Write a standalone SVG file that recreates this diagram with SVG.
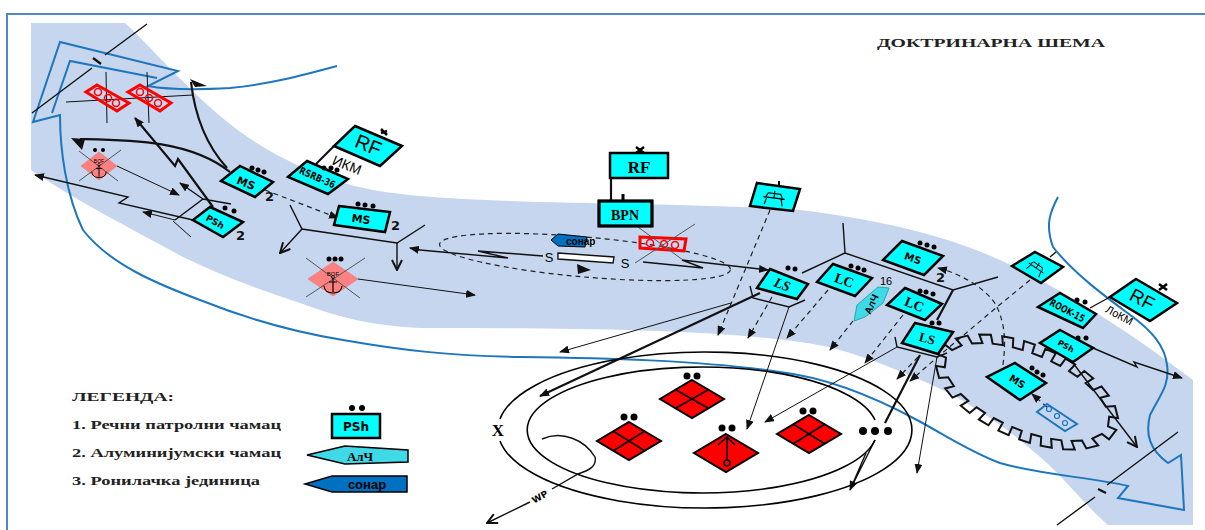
<svg xmlns="http://www.w3.org/2000/svg" xmlns:xlink="http://www.w3.org/1999/xlink" width="1205" height="530" viewBox="0 0 1205 530">
<style>
.riv{fill:none;stroke:#1e76bd;stroke-width:2}
.b1{fill:none;stroke:#111;stroke-width:1}
.b2{fill:none;stroke:#111;stroke-width:1.4}
.b3{fill:none;stroke:#111;stroke-width:2.2}
.da{fill:none;stroke:#222;stroke-width:1.2;stroke-dasharray:5 4}
.cy{fill:#00ffff;stroke:#000;stroke-width:2.5;stroke-linejoin:miter}
.red{fill:#ff0000;stroke:#000;stroke-width:2}
.rb{fill:none;stroke:#ff0000;stroke-width:3}
.gr{fill:none;stroke:#000;stroke-width:1.6}
.ring{fill:none;stroke:#ff0000;stroke-width:1.5}
.xl{stroke:#555;stroke-width:1;fill:none}
.bof{fill:#ff8080;stroke:#e07070;stroke-width:.5}
text{font-family:"Liberation Sans",Arial,sans-serif;fill:#000}
.t{font-weight:bold;text-anchor:middle;font-family:"DejaVu Sans",sans-serif}
.s{font-weight:bold;text-anchor:middle;font-family:"Liberation Serif",serif}
.n{font-weight:bold;font-size:13px;font-family:"DejaVu Sans",sans-serif;fill:#111}
.leg{font-family:"Liberation Serif",serif;font-weight:bold;font-size:13px;fill:#222}
</style>
<defs>
<marker id="a" viewBox="0 0 10 8" refX="9" refY="4" markerWidth="10" markerHeight="8" markerUnits="userSpaceOnUse" orient="auto"><path d="M0 0L10 4L0 8z" fill="#111"/></marker>
<marker id="o" viewBox="0 0 12 12" refX="11" refY="6" markerWidth="12" markerHeight="12" markerUnits="userSpaceOnUse" orient="auto"><path d="M1 1L11 6L1 11" fill="none" stroke="#111" stroke-width="2"/></marker>
<g id="anchor"><path d="M0-7V7M-4-3H4M-9 1C-8 8-3 8 0 8C3 8 8 8 9 1" fill="none" stroke="#000" stroke-width="1.2"/><circle cy="-8" r="1.5" fill="none" stroke="#000" stroke-width=".7"/></g>
<path id="eng" d="M-12 0H12M-7-5H7M0-8V0M-8 0L-10 8M8 0L10 8M-7-5L-9-1M7-5L9-1" fill="none" stroke="#000" stroke-width="1.3"/>
</defs>
<rect width="1205" height="530" fill="#fff"/>
<path d="M7 530V14H1205" fill="none" stroke="#5585c0" stroke-width="2"/>
<path id="band" fill="#c5d6ee" d="M31 23H125C170 65 215 125 287 160C335 185 375 192 420 196C520 205 680 202 800 210C880 220 945 235 1000 260C1075 295 1140 340 1193 380V525H1108C1090 510 1070 485 1047 463C1005 425 960 395 913 377C875 360 835 346 800 342C700 328 560 328 420 328C375 326 340 318 300 303C260 290 220 275 183 257C130 228 75 200 31 170Z"/>
<g id="river">
<path class="riv" d="M337 66C300 76 270 84 230 88C195 90 170 90 148 86L178 71L60 42L33 122L60 115C60 150 66 195 83 230C110 265 160 285 200 300C250 320 300 333 343 340C400 350 450 356 520 357C600 358 700 360 780 372C830 378 880 400 917 420C945 435 970 452 1000 463C1040 475 1090 477 1128 486L1118 498L1184 510L1181 455L1168 463C1150 450 1145 435 1150 415C1160 395 1170 385 1167 365C1165 345 1150 330 1133 317C1110 300 1075 275 1053 247C1045 225 1050 212 1058 197"/>
<path class="riv" d="M157 78L70 61L52 113"/>
</g>
<g id="connectors">
<path class="b2" d="M147 24L105 55M92 68L32 113"/>
<path class="b3" d="M93 58L101 64" stroke-width="2.5"/>
<path class="b2" d="M1178 432L1107 485M1095 497L1057 525"/>
<path class="b3" d="M1098 489L1106 493"/>
<path class="b1" d="M106 72L107 123M147 72L149 123M66 102L193 95"/>
<path class="b3" d="M227 168Q197 135 191 82"/>
<path d="M190 79L207 86L195 87z" fill="#111"/>
<path class="b3" d="M230 172C190 140 130 140 80 139"/>
<path d="M71 138L85 139L82 150z" fill="#111"/>
<path class="b3" d="M213 207L178 159L175 166L135 118" marker-end="url(#a)"/>
<path class="b2" d="M193 220L119 203L128 197L35 175" marker-end="url(#a)"/>
<path class="b2" d="M175 220L203 199L231 204M203 199L180 183" marker-end="url(#a)"/>
<path class="b1" d="M173 221L191 237M175 220L143 212" marker-end="url(#a)"/>
<path class="b1" d="M117 166L179 195" marker-end="url(#a)"/>
<path class="da" d="M265 190L338 218" marker-end="url(#a)"/>
<path class="b2" d="M290 205L302 229L397 243L425 225"/>
<path class="b2" d="M302 229L280 253" marker-end="url(#o)"/>
<path class="b2" d="M397 243V270" marker-end="url(#o)"/>
<path class="b1" d="M358 279L475 295" marker-end="url(#a)"/>
<path class="b2" d="M420 250L508 258L478 251L543 256"/>
<path class="b2" d="M420 250L410 248" marker-end="url(#a)"/>
<path class="b2" d="M643 262L703 268L682 260L768 270" marker-end="url(#a)"/>
<ellipse class="da" cx="585" cy="257" rx="146" ry="20" transform="rotate(5 585 257)"/>
<path d="M577 264L591 270L578 274z" fill="#111"/>
<path class="da" d="M770 210L718 335" marker-end="url(#a)"/>
<path class="b1" d="M731 303L560 352" marker-end="url(#a)"/>
<path class="b2" d="M750 286L753 298L789 307L805 300"/>
<path class="b1" d="M789 307L747 429" marker-end="url(#a)"/>
<path class="b3" stroke-width="2" d="M760 293L540 396" marker-end="url(#a)"/>
<path class="da" d="M772 297L748 338" marker-end="url(#a)"/>
<path class="da" d="M828 290L787 338" marker-end="url(#a)"/>
<path class="b2" d="M802 273L845 253L843 223M845 253L953 290L998 277"/>
<path class="b3" d="M953 290L937 320"/>
<path class="da" d="M853 321L830 350" marker-end="url(#a)"/>
<path class="da" d="M903 315L865 363" marker-end="url(#a)"/>
<path class="b2" d="M895 337L897 347L937 357L947 353"/>
<path class="b1" d="M897 347L765 422" marker-end="url(#a)"/>
<path class="b1" d="M937 357L917 473" marker-end="url(#a)"/>
<path class="b3" d="M920 355L885 423"/>
<path class="da" d="M918 357L897 379" marker-end="url(#a)"/>
<path class="da" d="M940 355L910 381" marker-end="url(#a)"/>
<path class="da" d="M1030 280L997 307L940 355"/>
<path class="da" d="M1003 365C1006 340 1005 325 997 307C990 292 965 275 938 268" marker-end="url(#a)"/>
<path class="b2" d="M1050 257L1056 252M1090 308L1110 297"/>
<path class="b2" d="M1093 348L1137 367L1134 362L1182 378" marker-end="url(#a)"/>
<path class="b2" d="M1073 363L1137 447" marker-end="url(#o)"/>
<path class="da" d="M1047 407L1032 394" marker-end="url(#a)"/>
<path class="b2" d="M875 440L850 490M866 453L850 490" marker-end="url(#a)"/>
<path class="b2" d="M542 439C562 430 585 440 595 457C597 466 590 470 578 474L552 489M530 502L487 523" marker-end="url(#o)"/>
</g>
<g id="gear" transform="translate(1027 392) rotate(23)">
<path fill="none" stroke="#111" stroke-width="2" d="M88 0L97 0L94 11.500L85.300 9.300L78.300 17.300L86.400 21.400L76.700 28.700L69.600 23.200L60.200 27.700L66.400 34.300L55.600 38.500L50.500 31.100L40.500 33.700L44.600 41.700L33.600 44.100L30.500 35.600L20.400 37L22.500 45.700L11.300 46.700L10.300 37.700L0 38L0 47L-11.300 46.700L-10.300 37.700L-20.400 37L-22.500 45.700L-33.600 44.100L-30.500 35.600L-40.500 33.700L-44.600 41.700L-55.600 38.500L-50.500 31.100L-60.200 27.700L-66.400 34.300L-76.700 28.700L-69.600 23.200L-78.300 17.300L-86.400 21.400L-94 11.500L-85.300 9.300L-88 0L-97 0L-94 -11.500L-85.300 -9.300L-78.300 -17.300L-86.400 -21.400L-76.700 -28.700L-69.600 -23.200L-60.200 -27.700L-66.400 -34.300L-55.600 -38.500L-50.500 -31.100L-40.500 -33.700L-44.600 -41.700L-33.600 -44.100L-30.500 -35.600L-20.400 -37L-22.500 -45.700L-11.300 -46.700L-10.300 -37.700L0 -38L0 -47L11.300 -46.700L10.300 -37.700L20.400 -37L22.500 -45.700L33.600 -44.100L30.500 -35.600L40.500 -33.700L44.600 -41.700L55.600 -38.500L50.500 -31.100L60.200 -27.700L66.400 -34.300L76.700 -28.700L69.600 -23.200L78.300 -17.300L86.400 -21.400L94 -11.500L85.300 -9.300Z"/>
</g>
<g id="objective">
<path class="gr" stroke-width="2" d="M500 419A207 78 0 1 1 500 441"/>
<path class="gr" stroke-width="2" d="M875 420A175 63 0 1 0 875 440"/>
<text class="s" x="498" y="436" font-size="17">X</text>
<circle cx="863" cy="431" r="4"/><circle cx="875" cy="431" r="4"/><circle cx="888" cy="431" r="4"/>
<text class="t" x="540" y="500" font-size="9" font-weight="normal" transform="rotate(-30 540 497)">WP</text>
</g>
<g id="d1"><path class="red" d="M692 380L724 399L692 418L660 399Z"/><path class="gr" d="M676 390L708 408M708 390L676 408"/><circle cx="687" cy="376" r="3.500"/><circle cx="697" cy="376" r="3.500"/></g>
<g id="d2"><path class="red" d="M629 422L661 441L629 460L597 441Z"/><path class="gr" d="M613 431L645 451M645 431L613 451"/><circle cx="624" cy="417" r="3.500"/><circle cx="634" cy="417" r="3.500"/></g>
<g id="d3"><path class="red" d="M726 434L758 453L726 472L694 453Z"/><path class="gr" stroke-width="2" d="M727 437V461M718 445L727 437L735 445"/><circle cx="727" cy="463" r="3" fill="#ff0000" stroke="#000" stroke-width="1.6"/><circle cx="722" cy="428" r="3.500"/><circle cx="732" cy="428" r="3.500"/></g>
<g id="d4"><path class="red" d="M809 415L841 434L809 453L777 434Z"/><path class="gr" d="M793 424L825 444M825 424L793 444"/><circle cx="803" cy="411" r="3.500"/><circle cx="813" cy="411" r="3.500"/></g>
<g id="boat1"><path class="rb" d="M97 85L129 103L117 111L86 92Z"/><g class="ring"><circle cx="98" cy="92" r="3.500"/><circle cx="108" cy="98" r="3.500"/><circle cx="116" cy="103" r="3.500"/></g></g>
<g id="boat2"><path class="rb" d="M140 85L171 103L160 111L128 92Z"/><g class="ring"><circle cx="140" cy="92" r="3.500"/><circle cx="149" cy="98" r="3.500"/><circle cx="158" cy="103" r="3.500"/></g></g>
<g id="bof1"><path class="bof" d="M99 152L117 166L99 180L81 166Z"/><path class="xl" d="M79 151L118 181M121 150L79 181"/><use href="#anchor" transform="translate(99 171) scale(.8)"/><text x="99" y="163" font-size="5" text-anchor="middle">BOF</text><circle cx="95" cy="150" r="2"/><circle cx="103" cy="150" r="2"/></g>
<g id="bof2"><path class="bof" d="M333 262L358 279L333 296L308 279Z"/><path class="xl" d="M306 258L360 298M365 258L306 297"/><use href="#anchor" transform="translate(333 285)"/><text x="333" y="276" font-size="6" text-anchor="middle">BOF</text><circle cx="329" cy="259" r="2.500"/><circle cx="335" cy="259" r="2.500"/><circle cx="341" cy="259" r="2.500"/></g>
<g id="rf1"><path class="cy" d="M355 126L402 146L380 166L334 146Z"/><text x="368" y="152" font-size="20" text-anchor="middle" transform="rotate(22 368 146)">RF</text><path d="M381 133L387 131M381 129L387 135" stroke="#000" stroke-width="2.500"/><path class="b3" d="M334 146L316 164"/><text x="347" y="170" font-size="14" text-anchor="middle" transform="rotate(22 347 165)">ИКМ</text></g>
<g id="ms1"><path class="cy" d="M240 166L273 182L255 197L221 181Z"/><text class="t" x="246" y="187" font-size="11" transform="rotate(22 246 183)">MS</text><circle cx="252" cy="168" r="2.500"/><circle cx="258" cy="170" r="2.500"/><circle cx="264" cy="172" r="2.500"/><text class="n" x="265" y="201">2</text></g>
<g id="rsrb"><path class="cy" d="M307 161L348 179L328 194L288 177Z"/><text class="t" x="317" y="181" font-size="10" font-weight="normal" textLength="38" lengthAdjust="spacingAndGlyphs" transform="rotate(24 317 178)">RSRB-36</text><circle cx="324" cy="168" r="2.500"/><circle cx="331" cy="168" r="2.500"/><circle cx="337" cy="170" r="2.500"/></g>
<g id="ms2"><path class="cy" d="M339 206L390 212L385 232L334 225Z"/><text class="t" x="361" y="223" font-size="11" transform="rotate(7 361 219)">MS</text><circle cx="358" cy="204" r="2.500"/><circle cx="365" cy="205" r="2.500"/><circle cx="373" cy="206" r="2.500"/><text class="n" x="391" y="230">2</text></g>
<g id="psh1"><path class="cy" d="M210 207L243 222L223 237L193 220Z"/><text class="t" x="215" y="225" font-size="9" transform="rotate(30 215 222)">PSh</text><circle cx="225" cy="208" r="2.500"/><circle cx="234" cy="211" r="2.500"/><text class="n" x="236" y="240">2</text></g>
<g id="sonar1"><path d="M551 240L558 234L587 237L585 247L558 246Z" fill="#0070c0" stroke="#000" stroke-width="1"/><text x="566" y="245" font-size="10" font-weight="bold">сонар</text></g>
<g id="boat3"><path class="rb" d="M640 237L686 239L684 251L640 248Z"/><g class="ring"><circle cx="650" cy="243" r="3.500"/><circle cx="664" cy="244" r="3.500"/><circle cx="675" cy="245" r="3.500"/></g><path class="xl" d="M638 227L683 260M695 224L635 263"/></g>
<g id="rect"><path d="M558 253L614 257L613 263L558 259Z" fill="#fff" stroke="#111" stroke-width="1.400"/><text x="549" y="262" font-size="13" text-anchor="middle" fill="#444">S</text><text x="625" y="268" font-size="13" text-anchor="middle" fill="#444">S</text></g>
<g id="rf2"><rect class="cy" x="610" y="153" width="58" height="25"/><text class="s" x="639" y="173" font-size="17">RF</text><path d="M636 147L644 153M644 147L636 153" stroke="#000" stroke-width="2.500"/><path class="b3" d="M611 178V203" stroke-width="2.500"/></g>
<g id="bpn"><rect class="cy" x="599" y="201" width="53" height="25"/><rect x="599" y="201" width="53" height="25" fill="none" stroke="#000" stroke-width="3"/><path d="M623 194V201" stroke="#000" stroke-width="3"/><text class="s" x="625" y="220" font-size="14">BPN</text></g>
<g id="eng1"><path class="cy" d="M757 183L800 189L793 211L750 206Z"/><path d="M779 181V185" stroke="#000" stroke-width="2"/><use href="#eng" transform="translate(774 198) rotate(7) scale(.9)"/></g>
<g id="ls1"><path class="cy" d="M770 269L808 284L797 299L757 288Z"/><text class="s" x="782" y="289" font-size="14" font-style="italic" transform="rotate(20 782 285)">LS</text><circle cx="788" cy="268" r="2.500"/><circle cx="795" cy="269" r="2.500"/></g>
<g id="lc1"><path class="cy" d="M833 264L872 278L855 296L817 282Z"/><text class="s" x="844" y="285" font-size="14" transform="rotate(20 844 281)">LC</text><circle cx="851" cy="266" r="2.500"/><circle cx="858" cy="268" r="2.500"/><circle cx="864" cy="270" r="2.500"/></g>
<g id="ms3"><path class="cy" d="M902 241L943 256L924 275L883 260Z"/><text class="t" x="913" y="262" font-size="10" transform="rotate(20 913 258)">MS</text><circle cx="920" cy="243" r="2.500"/><circle cx="927" cy="245" r="2.500"/><circle cx="934" cy="247" r="2.500"/><text class="n" x="936" y="282">2</text></g>
<g id="alc"><path d="M878 287L889 288L883 303L865 317L854 321L857 305Z" fill="#3fd9e8" stroke="#2aa" stroke-width="1"/><text x="871" y="308" font-size="10" font-weight="bold" text-anchor="middle" transform="rotate(-65 871 304)">АлЧ</text><text x="886" y="285" font-size="11" font-family="DejaVu Sans" text-anchor="middle" fill="#222">16</text></g>
<g id="lc2"><path class="cy" d="M905 288L942 304L925 320L887 305Z"/><text class="s" x="914" y="309" font-size="14" transform="rotate(22 914 305)">LC</text><circle cx="920" cy="291" r="2.500"/><circle cx="926" cy="292" r="2.500"/><circle cx="933" cy="294" r="2.500"/></g>
<g id="ls2"><path class="cy" d="M915 323L953 332L938 354L902 343Z"/><text class="s" x="927" y="343" font-size="13" transform="rotate(15 927 339)">LS</text><circle cx="932" cy="323" r="2.500"/><circle cx="939" cy="323" r="2.500"/></g>
<g id="eng2"><path class="cy" d="M1035 252L1063 267L1041 283L1012 266Z"/><use href="#eng" transform="translate(1036 268) rotate(35) scale(.75)"/></g>
<g id="rook"><path class="cy" d="M1060 293L1096 314L1083 328L1038 307Z"/><text class="t" x="1067" y="314" font-size="10" font-weight="normal" textLength="38" lengthAdjust="spacingAndGlyphs" transform="rotate(28 1067 311)">ROOK-15</text><circle cx="1077" cy="300" r="2.500"/><circle cx="1085" cy="302" r="2.500"/></g>
<g id="rf3"><path class="cy" d="M1136 279L1177 303L1150 321L1110 297Z"/><text x="1142" y="306" font-size="19" text-anchor="middle" transform="rotate(28 1142 300)">RF</text><path d="M1159 284L1167 290M1167 284L1159 290" stroke="#000" stroke-width="2.500"/><text x="1119" y="319" font-size="11" text-anchor="middle" transform="rotate(28 1119 316)">ЛоКМ</text></g>
<g id="psh2"><path class="cy" d="M1060 330L1093 348L1073 362L1040 343Z"/><text class="t" x="1066" y="349" font-size="8" transform="rotate(28 1066 346)">PSh</text><circle cx="1078" cy="338" r="2.500"/><circle cx="1086" cy="338" r="2.500"/></g>
<g id="ms4"><path class="cy" d="M1015 363L1046 383L1020 400L987 377Z"/><text class="t" x="1017" y="385" font-size="10" transform="rotate(32 1017 382)">MS</text><circle cx="1032" cy="368" r="2.500"/><circle cx="1037" cy="372" r="2.500"/><circle cx="1043" cy="375" r="2.500"/></g>
<g id="boat4"><path d="M1047 404L1077 424L1065 431L1037 412Z" fill="none" stroke="#1e76bd" stroke-width="2"/><g fill="none" stroke="#1e76bd" stroke-width="1.200"><circle cx="1049" cy="409" r="2.500"/><circle cx="1057" cy="416" r="2.500"/><circle cx="1065" cy="423" r="2.500"/></g></g>
<text id="title" class="leg" x="877" y="47" textLength="228" lengthAdjust="spacingAndGlyphs">ДОКТРИНАРНА ШЕМА</text>
<g id="legend">
<text class="leg" x="72" y="401" textLength="102" lengthAdjust="spacingAndGlyphs">ЛЕГЕНДА:</text>
<text class="leg" x="72" y="429" textLength="209" lengthAdjust="spacingAndGlyphs">1. Речни патролни чамац</text>
<text class="leg" x="72" y="457" textLength="209" lengthAdjust="spacingAndGlyphs">2. Алуминијумски чамац</text>
<text class="leg" x="72" y="485" textLength="188" lengthAdjust="spacingAndGlyphs">3. Ронилачка јединица</text>
<rect class="cy" x="332" y="414" width="48" height="24"/><text class="t" x="356" y="431" font-size="12">PSh</text><circle cx="352" cy="408" r="3"/><circle cx="362" cy="408" r="3"/>
<path d="M307 455L345 446L408 450V462L345 464Z" fill="#3fd9e8" stroke="#000" stroke-width="1.500"/><text class="s" x="360" y="461" font-size="13">АлЧ</text>
<path d="M305 484L332 476H407V492H332Z" fill="#0070c0" stroke="#000" stroke-width="1.500"/><text x="367" y="489" font-size="13" font-weight="bold" text-anchor="middle">сонар</text>
</g>
</svg>
